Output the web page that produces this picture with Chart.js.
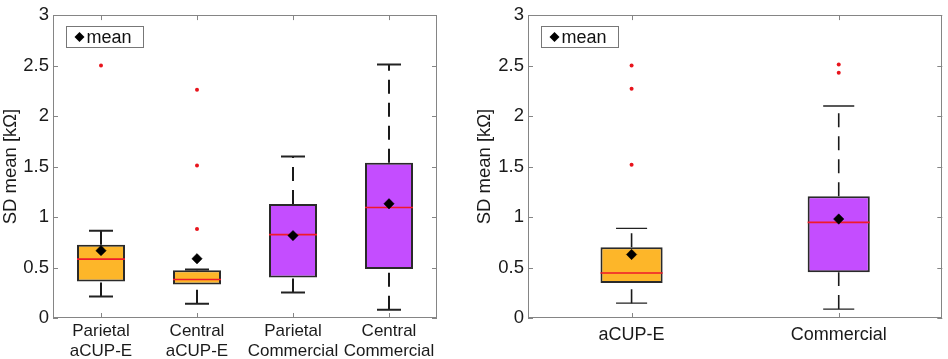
<!DOCTYPE html>
<html>
<head>
<meta charset="utf-8">
<script src="https://cdn.jsdelivr.net/npm/chart.js@4"></script>
<style>
  html, body { margin:0; padding:0; background:#fff; }
  #wrap { position:relative; width:948px; height:359px; }
  .pane { position:absolute; top:0; width:474px; height:359px; }
</style>
</head>
<body>
<div id="wrap">
  <div class="pane" style="left:0"><canvas id="cL" width="474" height="359"></canvas></div>
  <div class="pane" style="left:474px"><canvas id="cR" width="474" height="359"></canvas></div>
</div>
<script>
// ---------- data (left panel) ----------
const labelsL = [['Parietal','aCUP-E'],['Central','aCUP-E'],['Parietal','Commercial'],['Central','Commercial']];
const q1L   = [0.362, 0.332, 0.400, 0.485];
const q3L   = [0.725, 0.472, 1.128, 1.537];
const medL  = [0.583, 0.381, 0.826, 1.095];
const loL   = [0.213, 0.141, 0.253, 0.082];
const hiL   = [0.863, 0.480, 1.600, 2.510];
const meanL = [0.667, 0.587, 0.816, 1.131];
const outL  = [[2.50], [2.26, 1.511, 0.882], [], []];
const groupL = ['aCUP-E','aCUP-E','Commercial','Commercial'];

// ---------- data (right panel) ----------
const labelsR = ['aCUP-E','Commercial'];
const q1R   = [0.347, 0.452];
const q3R   = [0.701, 1.207];
const medR  = [0.446, 0.947];
const loR   = [0.147, 0.088];
const hiR   = [0.888, 2.100];
const meanR = [0.629, 0.980];
const outR  = [[2.50, 2.27, 1.517], [2.51, 2.43]];
const groupR = ['aCUP-E','Commercial'];

const yTicks = [0, 0.5, 1, 1.5, 2, 2.5, 3];
const yTitle = 'SD mean [k\u03A9]';
const legendText = 'mean';

const COLORS = { 'aCUP-E': '#FDB629', 'Commercial': '#C44DFF' };
const FONT = '"Liberation Sans", Arial, sans-serif';

function segs(xs, ys) { // pairs of points separated by gaps
  const out = [];
  for (let i = 0; i < xs.length; i++) {
    out.push({x: xs[i][0], y: ys[i][0]}, {x: xs[i][1], y: ys[i][1]}, {x: xs[i][1], y: null});
  }
  return out;
}

const framePlugin = {
  id: 'frame',
  afterDraw(chart) {
    const {ctx, chartArea: a, scales} = chart;
    ctx.save();
    ctx.strokeStyle = '#858585';
    ctx.lineWidth = 1;
    ctx.strokeRect(Math.round(a.left) + 0.5, Math.round(a.top) + 0.5,
                   Math.round(a.right - a.left) - 1, Math.round(a.bottom - a.top) - 1);
    const tl = 5;
    ctx.beginPath();
    scales.y.ticks.forEach(t => {
      const y = Math.round(scales.y.getPixelForValue(t.value)) + 0.5;
      ctx.moveTo(a.left, y); ctx.lineTo(a.left + tl, y);
      ctx.moveTo(a.right, y); ctx.lineTo(a.right - tl, y);
    });
    scales.x.ticks.forEach(t => {
      const x = Math.round(scales.x.getPixelForValue(t.value)) + 0.5;
      ctx.moveTo(x, a.bottom); ctx.lineTo(x, a.bottom - tl);
      ctx.moveTo(x, a.top); ctx.lineTo(x, a.top + tl);
    });
    ctx.stroke();
    // legend box
    const bx = Math.round(a.left + 13) + 0.5, by = Math.round(a.top + 11) + 0.5, bw = 77, bh = 21;
    ctx.fillStyle = '#fff';
    ctx.fillRect(bx, by, bw, bh);
    ctx.strokeStyle = '#777';
    ctx.strokeRect(bx, by, bw, bh);
    ctx.fillStyle = '#000';
    Chart.helpers.drawPoint(ctx, {pointStyle: 'rectRot', radius: 5, borderWidth: 0}, bx + 13, by + bh / 2);
    ctx.font = '18px ' + FONT;
    ctx.textBaseline = 'middle';
    ctx.fillStyle = '#111';
    ctx.fillText(legendText, bx + 20, by + bh / 2 + 1);
    ctx.restore();
  }
};

function build(id, cfg) {
  const n = cfg.labels.length;
  const xs = cfg.labels.map((_, i) => i + 1);
  const hb = cfg.boxW / 2, hc = cfg.boxW / 4;
  const boxes = xs.map((x, i) => ({x, y: [cfg.q1[i], cfg.q3[i]]}));
  const med = segs(xs.map(x => [x - hb, x + hb]), cfg.med.map(m => [m, m]));
  const caps = segs(
    xs.flatMap(x => [[x - hc, x + hc], [x - hc, x + hc]]),
    cfg.lo.flatMap((l, i) => [[l, l], [cfg.hi[i], cfg.hi[i]]]));
  const whisk = segs(
    xs.flatMap(x => [[x, x], [x, x]]),
    cfg.lo.flatMap((l, i) => [[l, cfg.q1[i]], [cfg.q3[i], cfg.hi[i]]]));
  const means = xs.map((x, i) => ({x, y: cfg.mean[i]}));
  const outs = xs.flatMap((x, i) => cfg.out[i].map(v => ({x, y: v})));

  new Chart(document.getElementById(id), {
    type: 'bar',
    data: {
      datasets: [
        { type: 'line', data: means, showLine: false, pointStyle: 'rectRot', pointRadius: 5.2,
          pointBackgroundColor: '#000', pointBorderColor: '#000', pointBorderWidth: 0.5 },
        { type: 'line', data: outs, showLine: false, pointStyle: 'circle', pointRadius: 2,
          pointBackgroundColor: '#E8141C', pointBorderColor: '#E8141C', pointBorderWidth: 0 },
        { type: 'line', data: med, borderColor: '#F01A2A', borderWidth: 1.6, pointRadius: 0,
          spanGaps: false, fill: false, tension: 0 },
        { type: 'line', data: caps, borderColor: '#222', borderWidth: cfg.capW, pointRadius: 0,
          spanGaps: false, fill: false, tension: 0 },
        { type: 'bar', data: boxes, backgroundColor: cfg.groups.map(g => COLORS[g]),
          borderColor: '#2a2a2a', borderWidth: 2, borderSkipped: false,
          barPercentage: cfg.boxW, categoryPercentage: 1 },
        { type: 'line', data: whisk, borderColor: '#1a1a1a', borderWidth: cfg.whW, borderDash: [14, 9],
          pointRadius: 0, spanGaps: false, fill: false, tension: 0 }
      ]
    },
    options: {
      responsive: false,
      animation: false,
      events: [],
      layout: { padding: { left: 0, top: 13, right: cfg.padR, bottom: 0 } },
      plugins: { legend: { display: false }, tooltip: { enabled: false } },
      scales: {
        x: {
          type: 'linear', min: 0.5, max: n + 0.5, offset: false,
          grid: { display: false, drawTicks: false },
          border: { display: false },
          afterBuildTicks: s => { s.ticks = xs.map(v => ({value: v})); },
          afterFit: s => { s.height = 41; },
          ticks: {
            autoSkip: false, maxRotation: 0, padding: cfg.xPad,
            color: '#1a1a1a', font: { family: FONT, size: cfg.xFont, lineHeight: 1.18 },
            callback: v => cfg.labels[Math.round(v) - 1]
          }
        },
        y: {
          min: 0, max: 3,
          grid: { display: false, drawTicks: false },
          border: { display: false },
          afterBuildTicks: s => { s.ticks = yTicks.map(v => ({value: v})); },
          afterFit: s => { s.width = cfg.yW; },
          ticks: { padding: 4, color: '#1a1a1a', font: { family: FONT, size: 18.5 },
                   callback: v => String(+v) },
          title: { display: true, text: yTitle, color: '#1a1a1a', padding: { top: 0, bottom: 0 },
                   font: { family: FONT, size: 18.5 } }
        }
      }
    },
    plugins: [framePlugin]
  });
}

build('cL', { labels: labelsL, q1: q1L, q3: q3L, med: medL, lo: loL, hi: hiL, mean: meanL, out: outL,
  groups: groupL, boxW: 0.5, padR: 37, yW: 53, xFont: 17, xPad: 3, capW: 2, whW: 2 });
build('cR', { labels: labelsR, q1: q1R, q3: q3R, med: medR, lo: loR, hi: hiR, mean: meanR, out: outR,
  groups: groupR, boxW: 0.3, padR: 2, yW: 54, xFont: 18, xPad: 6, capW: 1.4, whW: 1.6 });
</script>
</body>
</html>
